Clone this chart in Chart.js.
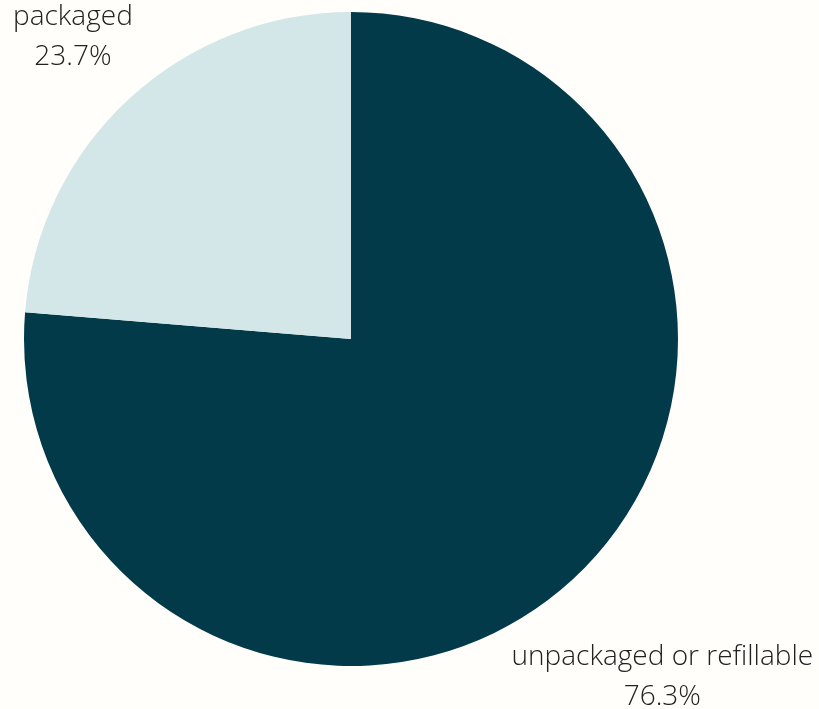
<!DOCTYPE html>
<html>
<head>
<meta charset="utf-8">
<script src="https://cdn.jsdelivr.net/npm/chart.js@4.4.0/dist/chart.umd.min.js"></script>
<style>
  html, body { margin: 0; padding: 0; background: #fffefa; }
  #wrap { width: 819px; height: 709px; position: relative; }
</style>
</head>
<body>
<div id="wrap"><canvas id="pie"></canvas></div>
<script>
// --- data ---
const categories = ['unpackaged or refillable', 'packaged'];
const shares = [76.3, 23.7];
const sliceColors = ['#023a4a', '#d3e6e8'];

// labels drawn outside each slice, along the slice's middle angle
const outsideLabels = {
    id: 'outsideLabels',
    afterDatasetsDraw(chart, args, opts) {
        const ctx = chart.ctx;
        const meta = chart.getDatasetMeta(0);
        ctx.save();
        ctx.fillStyle = '#222222';
        ctx.font = '300 28px "Open Sans", Lato, sans-serif';
        ctx.textAlign = 'center';
        ctx.textBaseline = 'middle';
        meta.data.forEach((arc, i) => {
            const mid = (arc.startAngle + arc.endAngle) / 2;
            const dist = arc.outerRadius * opts.factors[i];
            const x = arc.x + Math.cos(mid) * dist;
            const y = arc.y + Math.sin(mid) * dist;
            ctx.fillText(chart.data.labels[i], x, y - 20);
            ctx.fillText(shares[i].toFixed(1) + '%', x, y + 20);
        });
        ctx.restore();
    }
};

new Chart(document.getElementById('pie'), {
    type: 'pie',
    data: {
        labels: categories,
        datasets: [{
            data: shares,
            backgroundColor: sliceColors,
            borderWidth: 0
        }]
    },
    options: {
        responsive: true, maintainAspectRatio: false, animation: false,
        layout: { padding: { left: 24, right: 141, top: 12, bottom: 43 } },
        plugins: {
            legend: { display: false },
            tooltip: { enabled: false },
            outsideLabels: { factors: [1.405, 1.255] }
        }
    },
    plugins: [outsideLabels]
});
</script>
</body>
</html>
